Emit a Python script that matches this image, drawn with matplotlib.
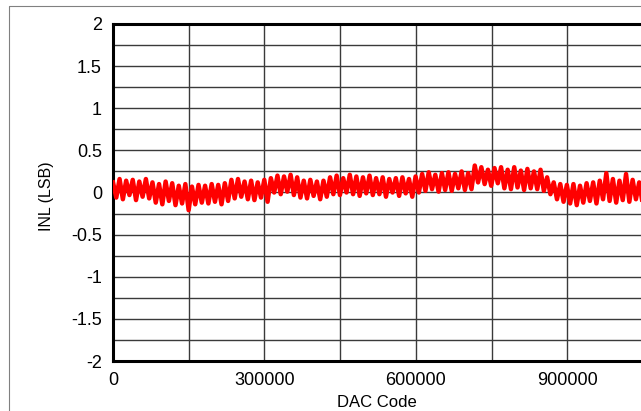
import matplotlib
matplotlib.use("Agg")
import matplotlib.pyplot as plt
from matplotlib.lines import Line2D
import numpy as np

plt.rcParams["font.family"] = ["Liberation Sans", "DejaVu Sans"]

# ===== データ =====
code_max = 1048575
x_ticks = [0, 300000, 600000, 900000]
y_ticks = [-2, -1.5, -1, -0.5, 0, 0.5, 1, 1.5, 2]

# INL (LSB) 読み取り値
inl = [
    0.12, -0.06, 0.16, -0.08, 0.14, -0.03, 0.15, -0.09, 0.13, -0.05, 0.16, -0.07,
    0.12, -0.12, 0.10, -0.14, 0.13, -0.10, 0.11, -0.15, 0.08, -0.13, 0.10, -0.21, 0.07, -0.14, 0.09,
    -0.12, 0.08, -0.13, 0.10, -0.11, 0.09, -0.14, 0.11, -0.10,
    0.15, -0.07, 0.16, -0.05, 0.13, -0.08, 0.14, -0.09, 0.12, -0.06, 0.15,
    -0.11, 0.17, 0.00, 0.20, -0.02, 0.19, 0.01, 0.21, -0.03, 0.18,
    -0.06, 0.14, -0.07, 0.15, -0.04, 0.13, -0.08, 0.14, -0.05,
    0.18, -0.02, 0.20, -0.03, 0.17, 0.00, 0.21, -0.02, 0.19, -0.04, 0.18, -0.01, 0.20, -0.03,
    0.17, -0.02, 0.18, -0.05, 0.16, 0.00, 0.17, -0.04, 0.18, -0.01, 0.16, -0.05, 0.19, 0.00,
    0.22, 0.02, 0.24, 0.04, 0.21, 0.01, 0.23, 0.03, 0.24, 0.02, 0.22, 0.05, 0.25, 0.03, 0.23, 0.04,
    0.32, 0.12, 0.30, 0.10, 0.27, 0.08, 0.29, 0.11, 0.30,
    0.05, 0.27, 0.04, 0.30, 0.06, 0.26, 0.03, 0.28, 0.05, 0.25, 0.04, 0.27, 0.02,
    0.18, -0.02, 0.12, -0.08, 0.10,
    -0.11, 0.09, -0.13, 0.10, -0.15, 0.08, -0.12, 0.11, -0.10, 0.12, -0.13, 0.14,
    -0.08, 0.23, -0.10, 0.16, -0.12, 0.14, -0.09, 0.22, -0.11, 0.15, -0.08, 0.12, -0.12,
]
codes = np.linspace(0, code_max, len(inl))

# ===== グラフ描画 =====
W, H = 641, 411
fig = plt.figure(figsize=(W / 100, H / 100), dpi=100)

# 外枠
fig.add_artist(Line2D([8.5 / W, 8.5 / W, 1.0], [0.0, 1 - 6.5 / H, 1 - 6.5 / H],
                      transform=fig.transFigure, color="#808080", lw=0.8))

ax = fig.add_axes([113 / W, 50 / H, 529.5 / W, 337 / H])
ax.plot(codes, inl, color="#ff0000", lw=3.2, zorder=3)

ax.set_xlim(0, code_max)
ax.set_ylim(-2, 2)
ax.set_xticks(x_ticks)
ax.set_xticklabels([str(v) for v in x_ticks])
ax.set_yticks(y_ticks)
ax.set_yticklabels(["%g" % v for v in y_ticks])
ax.set_xticks(np.arange(0, code_max, 150000), minor=True)
ax.set_yticks(np.arange(-2, 2.01, 0.25), minor=True)
ax.grid(which="both", color="#3a3a3a", lw=1.0, zorder=1)
ax.tick_params(which="both", length=0, labelsize=13)
ax.tick_params(axis="x", pad=8)
ax.tick_params(axis="y", pad=8)
for s in ax.spines.values():
    s.set_linewidth(2.2)
    s.set_color("black")

fig.text(377 / W, 1 - 402 / H, "DAC Code", ha="center", va="center", fontsize=12)
fig.text(47 / W, 1 - 196 / H, "INL (LSB)", ha="center", va="center", rotation=90, fontsize=11.5)

fig.savefig("out.png", dpi=100)
